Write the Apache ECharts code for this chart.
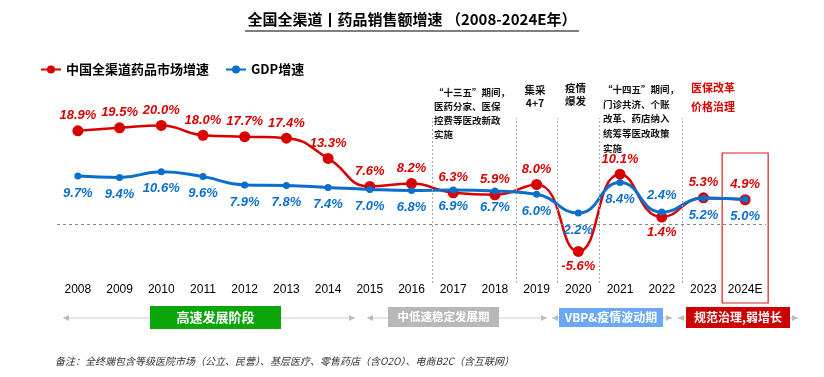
<!DOCTYPE html>
<html>
<head>
<meta charset="utf-8">
<script src="https://cdn.jsdelivr.net/npm/echarts@6/dist/echarts.min.js"></script>
<style>
  html, body { margin: 0; padding: 0; background: #fff; }
  #main { width: 824px; height: 377px; }
</style>
</head>
<body>
<div id="main"></div>
<script>
// 年份 & 两条增速
var years = ['2008', '2009', '2010', '2011', '2012', '2013', '2014', '2015', '2016',
  '2017', '2018', '2019', '2020', '2021', '2022', '2023', '2024E'];
var marketGrowth = [18.9, 19.5, 20.0, 18.0, 17.7, 17.4, 13.3, 7.6, 8.2, 6.3, 5.9, 8.0, -5.6, 10.1, 1.4, 5.3, 4.9];
var gdpGrowth = [9.7, 9.4, 10.6, 9.6, 7.9, 7.8, 7.4, 7.0, 6.8, 6.9, 6.7, 6.0, 2.2, 8.4, 2.4, 5.2, 5.0];
// 政策分隔线（类目边界）
var splitAt = [8.5, 10.5, 11.5, 12.5, 14.5];

var RED = '#d90000';
var BLUE = '#0a6fcc';
var CJK = '"Noto Sans CJK SC", sans-serif';
var LAT = '"Liberation Sans", Arial, sans-serif';

// 标签位置例外
var redBelow = ['2020', '2022'];
var blueAbove = ['2022'];

var chart = echarts.init(document.getElementById('main'));

function pct(p) { return p.value.toFixed(1) + '%'; }

function note(text, x, y, size, lh, color, align) {
  return {
    type: 'text', x: x, y: y, z: 10,
    style: {
      text: text, fill: color || '#111', fontSize: size, fontWeight: 'bold',
      fontFamily: CJK, lineHeight: lh, align: align || 'left', verticalAlign: 'top'
    }
  };
}

function arrowSeg(x1, x2, y) {
  return [
    { type: 'line', shape: { x1: x1, y1: y, x2: x2, y2: y }, style: { stroke: '#dddddd', lineWidth: 1.5 } },
    { type: 'polygon', shape: { points: [[x1, y], [x1 + 6, y - 3], [x1 + 6, y + 3]] }, style: { fill: '#bdbdbd' } },
    { type: 'polygon', shape: { points: [[x2, y], [x2 - 6, y - 3], [x2 - 6, y + 3]] }, style: { fill: '#bdbdbd' } }
  ];
}

function phaseBox(x1, x2, y1, y2, fill, text, size) {
  return [
    { type: 'rect', shape: { x: x1, y: y1, width: x2 - x1, height: y2 - y1 }, style: { fill: fill }, z: 5 },
    {
      type: 'text', x: (x1 + x2) / 2, y: (y1 + y2) / 2, z: 6,
      style: { text: text, fill: '#fff', fontSize: size, fontWeight: 'bold', fontFamily: CJK, align: 'center', verticalAlign: 'middle' }
    }
  ];
}

var option = {
  animation: false,
  title: {
    text: '全国全渠道丨药品销售额增速 （2008-2024E年）',
    left: 'center', top: 12, padding: 0,
    textStyle: { fontSize: 15, fontWeight: 'bold', color: '#000', fontFamily: CJK }
  },
  legend: {
    left: 40, top: 63, padding: 0, itemGap: 16, itemWidth: 20, itemHeight: 10,
    textStyle: { fontSize: 13, fontWeight: 'bold', color: '#000', fontFamily: CJK },
    data: ['中国全渠道药品市场增速', 'GDP增速']
  },
  grid: { left: 57, right: 58, top: 118, height: 165 },
  xAxis: [{
    type: 'category', data: years,
    axisLine: { show: false }, axisTick: { show: false },
    axisLabel: { color: '#000', fontSize: 12, margin: 1, interval: 0, fontFamily: LAT }
  }, {
    type: 'value', min: -0.5, max: 16.5, show: false
  }],
  yAxis: { type: 'value', min: -12, max: 21.5, show: false },
  series: [{
    name: '中国全渠道药品市场增速', type: 'line', smooth: 0.5,
    symbol: 'circle', symbolSize: 11,
    lineStyle: { color: RED, width: 2.5 }, itemStyle: { color: RED },
    label: {
      show: true, formatter: pct, distance: 3, color: RED,
      fontSize: 13, fontWeight: 'bold', fontStyle: 'italic', fontFamily: LAT
    },
    data: marketGrowth.map(function (v, i) {
      return { value: v, label: { position: redBelow.indexOf(years[i]) >= 0 ? 'bottom' : 'top' } };
    }),
    markLine: {
      silent: true, symbol: 'none', label: { show: false },
      lineStyle: { color: '#888', type: [3, 3], width: 1 },
      data: [{ yAxis: 0 }]
    },
    z: 2
  }, {
    name: 'GDP增速', type: 'line', smooth: 0.5,
    symbol: 'circle', symbolSize: 7,
    lineStyle: { color: BLUE, width: 3 }, itemStyle: { color: BLUE },
    label: {
      show: true, formatter: pct, distance: 7, color: BLUE,
      fontSize: 13, fontWeight: 'bold', fontStyle: 'italic', fontFamily: LAT
    },
    data: gdpGrowth.map(function (v, i) {
      return { value: v, label: { position: blueAbove.indexOf(years[i]) >= 0 ? 'top' : 'bottom' } };
    }),
    z: 3
  }, {
    name: 'split', type: 'line', xAxisIndex: 1, data: [],
    markLine: {
      silent: true, symbol: 'none', label: { show: false },
      lineStyle: { color: '#aaa', type: [2, 2], width: 1 },
      data: splitAt.map(function (x) { return { xAxis: x }; })
    }
  }]
};

chart.setOption(option);

// 红框（2024E）
var cx = chart.convertToPixel({ xAxisIndex: 1 }, 16);
var graphics = [
  { type: 'line', shape: { x1: 245, y1: 31, x2: 579, y2: 31 }, style: { stroke: '#000', lineWidth: 1.2 } },
  { type: 'rect', shape: { x: cx - 23, y: 153, width: 46, height: 150 }, style: { fill: 'none', stroke: '#d42020', lineWidth: 1.2 } },
  note('“十三五”期间，\n医药分家、医保\n控费等医改新政\n实施', 434, 85, 9.5, 14),
  note('集采\n4+7', 535, 83, 10.5, 13.5, '#111', 'center'),
  note('疫情\n爆发', 565, 81, 10.5, 13.5),
  note('“十四五”期间，\n门诊共济、个账\n改革、药店纳入\n统筹等医改政策\n实施', 603, 82, 9.5, 14.7),
  note('医保改革\n价格治理', 691, 78, 11, 19, '#e00000'),
  {
    type: 'text', x: 55, y: 356,
    style: {
      text: '备注：全终端包含等级医院市场（公立、民营）、基层医疗、零售药店（含O2O）、电商B2C（含互联网）',
      fill: '#333', fontSize: 10, fontStyle: 'italic', fontFamily: CJK, verticalAlign: 'top'
    }
  }
];
graphics = graphics
  .concat(arrowSeg(63, 355, 318))
  .concat(arrowSeg(367, 547, 318))
  .concat(arrowSeg(552, 672, 318))
  .concat(arrowSeg(678, 798, 318))
  .concat(phaseBox(150, 281, 306, 329, '#0aa60a', '高速发展阶段', 13))
  .concat(phaseBox(388, 499, 307, 327, '#b8b8b8', '中低速稳定发展期', 11.5))
  .concat(phaseBox(559, 663, 308, 327, '#6aa7f5', 'VBP&疫情波动期', 12))
  .concat(phaseBox(686, 790, 307, 328, '#cc0000', '规范治理,弱增长', 12));

chart.setOption({ graphic: graphics });
</script>
</body>
</html>
